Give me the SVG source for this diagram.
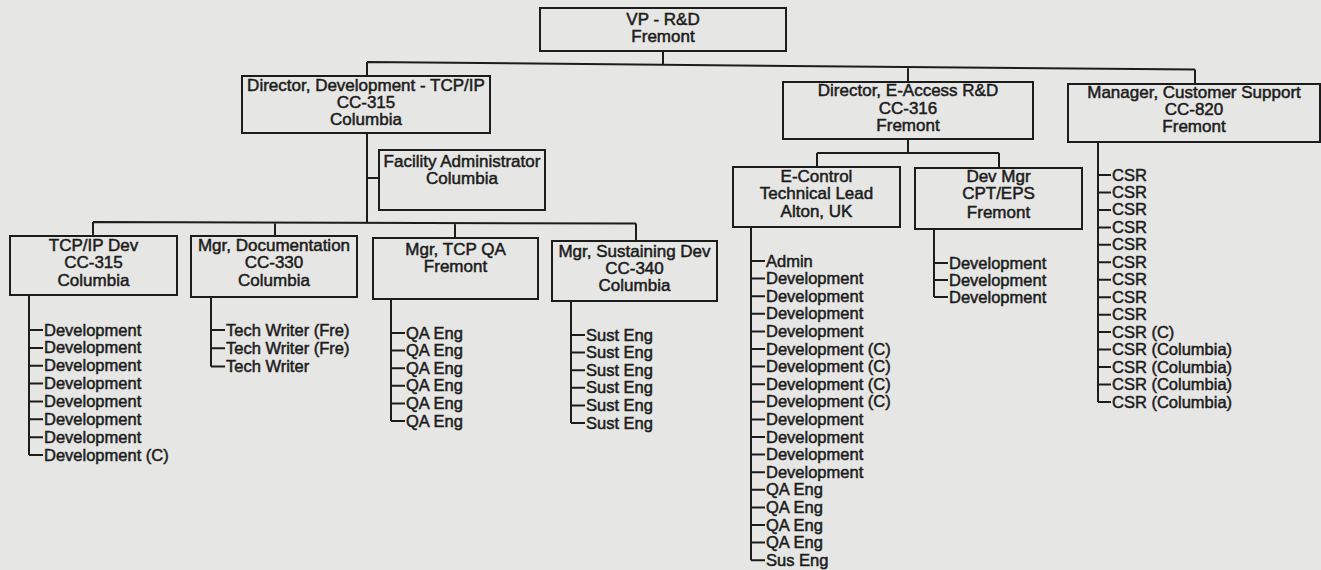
<svg xmlns="http://www.w3.org/2000/svg" width="1321" height="570" viewBox="0 0 1321 570">
<style>
.bg{fill:#e6e6e4}
.box{fill:none;stroke:#1c1c1c;stroke-width:2}
.c{fill:none;stroke:#1c1c1c;stroke-width:2}
text{font-family:"Liberation Sans",Arial,sans-serif;fill:#1c1c1c;stroke:#1c1c1c;stroke-width:0.5}
.t{font-size:17px;text-anchor:middle}
.li{font-size:16.5px;text-anchor:start}
</style>
<rect class="bg" x="0" y="0" width="1321" height="570"/>
<g id="connectors">
<path class="c" d="M663 51V64.7M367 62L1195 69.6M367 62V76M908 67V82M1195 69.6V84"/>
<path class="c" d="M367 133V222.5M367 178H379M93 222L636 223.5M93 222V236M275 222.5V236M455 223V238M636 223.5V241"/>
<path class="c" d="M908 139V153M817 153H999M817 153V167M999 153V168"/>
<path class="c" d="M29 295V455M29 330H43M29 347.9H43M29 365.7H43M29 383.6H43M29 401.4H43M29 419.3H43M29 437.2H43M29 455H43"/>
<path class="c" d="M211 297V366.6M211 330H225M211 348.3H225M211 366.6H225"/>
<path class="c" d="M391 299V421M391 333H405M391 350.6H405M391 368.2H405M391 385.8H405M391 403.4H405M391 421H405"/>
<path class="c" d="M571 301V423M571 335H585M571 352.6H585M571 370.2H585M571 387.8H585M571 405.4H585M571 423H585"/>
<path class="c" d="M751 227V560.2M751 261H765M751 278.6H765M751 296.2H765M751 313.8H765M751 331.4H765M751 349H765M751 366.6H765M751 384.2H765M751 401.8H765M751 419.4H765M751 437H765M751 454.6H765M751 472.2H765M751 489.8H765M751 507.4H765M751 525H765M751 542.6H765M751 560.2H765"/>
<path class="c" d="M934 229V297M934 263H948M934 280H948M934 297H948"/>
<path class="c" d="M1098 142V402M1098 175H1111M1098 192.5H1111M1098 209.9H1111M1098 227.4H1111M1098 244.8H1111M1098 262.3H1111M1098 279.8H1111M1098 297.2H1111M1098 314.7H1111M1098 332.1H1111M1098 349.6H1111M1098 367.1H1111M1098 384.5H1111M1098 402H1111"/>
</g>
<g id="vp"><rect class="box" x="540" y="8" width="246" height="43"/><text class="t" x="663" y="25">VP - R&amp;D</text><text class="t" x="663" y="42">Fremont</text></g>
<g id="dir-dev"><rect class="box" x="242" y="76" width="248" height="57"/><text class="t" x="366" y="91">Director, Development - TCP/IP</text><text class="t" x="366" y="108">CC-315</text><text class="t" x="366" y="125">Columbia</text></g>
<g id="facility"><rect class="box" x="379" y="150" width="166" height="60"/><text class="t" x="462" y="167">Facility Administrator</text><text class="t" x="462" y="184">Columbia</text></g>
<g id="dir-eaccess"><rect class="box" x="783" y="82" width="250" height="57"/><text class="t" x="908" y="96">Director, E-Access R&amp;D</text><text class="t" x="908" y="113.5">CC-316</text><text class="t" x="908" y="131">Fremont</text></g>
<g id="mgr-cs"><rect class="box" x="1068" y="84" width="252" height="58"/><text class="t" x="1194" y="98">Manager, Customer Support</text><text class="t" x="1194" y="115">CC-820</text><text class="t" x="1194" y="132">Fremont</text></g>
<g id="tcpip-dev"><rect class="box" x="10" y="236" width="167" height="59"/><text class="t" x="93.5" y="251">TCP/IP Dev</text><text class="t" x="93.5" y="268">CC-315</text><text class="t" x="93.5" y="286">Columbia</text></g>
<g id="mgr-doc"><rect class="box" x="191" y="236" width="166" height="61"/><text class="t" x="274" y="251">Mgr, Documentation</text><text class="t" x="274" y="268">CC-330</text><text class="t" x="274" y="286">Columbia</text></g>
<g id="mgr-qa"><rect class="box" x="373" y="238" width="165" height="61"/><text class="t" x="455.5" y="255">Mgr, TCP QA</text><text class="t" x="455.5" y="272">Fremont</text></g>
<g id="mgr-sust"><rect class="box" x="552" y="241" width="165" height="60"/><text class="t" x="634.5" y="257">Mgr, Sustaining Dev</text><text class="t" x="634.5" y="274">CC-340</text><text class="t" x="634.5" y="291">Columbia</text></g>
<g id="econtrol"><rect class="box" x="733" y="167" width="167" height="60"/><text class="t" x="816.5" y="182">E-Control</text><text class="t" x="816.5" y="199">Technical Lead</text><text class="t" x="816.5" y="217">Alton, UK</text></g>
<g id="devmgr"><rect class="box" x="915" y="168" width="167" height="61"/><text class="t" x="998.5" y="182">Dev Mgr</text><text class="t" x="998.5" y="199">CPT/EPS</text><text class="t" x="998.5" y="218">Fremont</text></g>
<g id="list-tcpip">
<text class="li" x="44" y="335.5">Development</text><text class="li" x="44" y="353.4">Development</text><text class="li" x="44" y="371.2">Development</text><text class="li" x="44" y="389.1">Development</text><text class="li" x="44" y="406.9">Development</text><text class="li" x="44" y="424.8">Development</text><text class="li" x="44" y="442.7">Development</text><text class="li" x="44" y="460.5">Development (C)</text>
</g>
<g id="list-doc">
<text class="li" x="226" y="335.5">Tech Writer (Fre)</text><text class="li" x="226" y="353.8">Tech Writer (Fre)</text><text class="li" x="226" y="372.1">Tech Writer</text>
</g>
<g id="list-qa">
<text class="li" x="406" y="338.5">QA Eng</text><text class="li" x="406" y="356.1">QA Eng</text><text class="li" x="406" y="373.7">QA Eng</text><text class="li" x="406" y="391.3">QA Eng</text><text class="li" x="406" y="408.9">QA Eng</text><text class="li" x="406" y="426.5">QA Eng</text>
</g>
<g id="list-sust">
<text class="li" x="586" y="340.5">Sust Eng</text><text class="li" x="586" y="358.1">Sust Eng</text><text class="li" x="586" y="375.7">Sust Eng</text><text class="li" x="586" y="393.3">Sust Eng</text><text class="li" x="586" y="410.9">Sust Eng</text><text class="li" x="586" y="428.5">Sust Eng</text>
</g>
<g id="list-econtrol">
<text class="li" x="766" y="266.5">Admin</text><text class="li" x="766" y="284.1">Development</text><text class="li" x="766" y="301.7">Development</text><text class="li" x="766" y="319.3">Development</text><text class="li" x="766" y="336.9">Development</text><text class="li" x="766" y="354.5">Development (C)</text><text class="li" x="766" y="372.1">Development (C)</text><text class="li" x="766" y="389.7">Development (C)</text><text class="li" x="766" y="407.3">Development (C)</text><text class="li" x="766" y="424.9">Development</text><text class="li" x="766" y="442.5">Development</text><text class="li" x="766" y="460.1">Development</text><text class="li" x="766" y="477.7">Development</text><text class="li" x="766" y="495.3">QA Eng</text><text class="li" x="766" y="512.9">QA Eng</text><text class="li" x="766" y="530.5">QA Eng</text><text class="li" x="766" y="548.1">QA Eng</text><text class="li" x="766" y="565.7">Sus Eng</text>
</g>
<g id="list-devmgr">
<text class="li" x="949" y="268.5">Development</text><text class="li" x="949" y="285.5">Development</text><text class="li" x="949" y="302.5">Development</text>
</g>
<g id="list-csr">
<text class="li" x="1112" y="180.5">CSR</text><text class="li" x="1112" y="198">CSR</text><text class="li" x="1112" y="215.4">CSR</text><text class="li" x="1112" y="232.9">CSR</text><text class="li" x="1112" y="250.3">CSR</text><text class="li" x="1112" y="267.8">CSR</text><text class="li" x="1112" y="285.3">CSR</text><text class="li" x="1112" y="302.7">CSR</text><text class="li" x="1112" y="320.2">CSR</text><text class="li" x="1112" y="337.6">CSR (C)</text><text class="li" x="1112" y="355.1">CSR (Columbia)</text><text class="li" x="1112" y="372.6">CSR (Columbia)</text><text class="li" x="1112" y="390">CSR (Columbia)</text><text class="li" x="1112" y="407.5">CSR (Columbia)</text>
</g>
</svg>
